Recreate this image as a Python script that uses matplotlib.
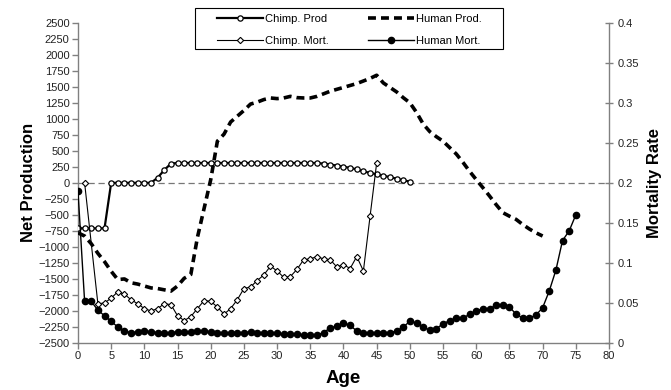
import numpy as np
import matplotlib.pyplot as plt
from matplotlib.patches import Rectangle

plt.rcParams['font.family'] = ['Liberation Sans', 'DejaVu Sans']

# --- data ---
chimp_prod_age = list(range(0, 51))
chimp_prod = [-710, -710, -710, -710, -710,
              0, 0, 0, 0, 0, 0, 0,
              80, 200, 300,
              310, 310, 310, 310, 310, 310, 310, 310, 310, 310,
              310, 310, 310, 310, 310, 310, 310, 310, 310, 310, 310, 310,
              300, 285, 270, 250, 235, 210, 180, 155, 135, 110, 90, 65, 40, 20]

human_prod_age = list(range(0, 71))
human_prod = [-780, -830, -950, -1100, -1230, -1380, -1510, -1500, -1560, -1580,
              -1610, -1640, -1650, -1670, -1690, -1610, -1490, -1430, -850, -400,
              50, 650, 760, 950, 1040, 1130, 1230, 1260, 1300, 1325,
              1315, 1325, 1350, 1330, 1325, 1325, 1350, 1390, 1430, 1460,
              1490, 1520, 1550, 1590, 1630, 1680, 1560, 1490, 1420, 1330,
              1250, 1100, 920, 800, 720, 650, 550, 450, 320, 180,
              50, -75, -205, -340, -465, -520, -570, -650, -720, -780, -830]

chimp_mort_age = [1] + list(range(3, 46))
chimp_mort = [0.200,
              0.049, 0.050, 0.056, 0.064, 0.061, 0.054, 0.049, 0.043, 0.040, 0.043,
              0.049, 0.048, 0.034, 0.028, 0.033, 0.043, 0.053, 0.052, 0.045, 0.036,
              0.043, 0.054, 0.068, 0.070, 0.078, 0.085, 0.096, 0.090, 0.082, 0.083,
              0.092, 0.104, 0.105, 0.108, 0.105, 0.104, 0.095, 0.098, 0.093, 0.108,
              0.090, 0.158, 0.225]

human_mort_age = list(range(0, 76))
human_mort = [0.190, 0.052, 0.052, 0.041, 0.034, 0.027, 0.020, 0.015, 0.013, 0.014,
              0.015, 0.014, 0.013, 0.012, 0.013, 0.014, 0.014, 0.014, 0.015, 0.015,
              0.014, 0.012, 0.012, 0.012, 0.013, 0.013, 0.014, 0.013, 0.013, 0.012,
              0.012, 0.011, 0.011, 0.011, 0.010, 0.010, 0.010, 0.013, 0.019, 0.021,
              0.025, 0.022, 0.015, 0.012, 0.012, 0.013, 0.013, 0.013, 0.015, 0.020,
              0.027, 0.025, 0.020, 0.016, 0.018, 0.024, 0.028, 0.031, 0.031, 0.036,
              0.040, 0.043, 0.043, 0.047, 0.047, 0.045, 0.036, 0.031, 0.031, 0.035,
              0.044, 0.065, 0.091, 0.128, 0.140, 0.160]

spine_col = '#808080'
W, H = 671, 390

fig = plt.figure(figsize=(W / 100, H / 100), dpi=100)
ax = fig.add_axes([0.1162, 0.1205, 0.7914, 0.8213])
ax2 = ax.twinx()

# zero line
ax.axhline(0, color='#777777', lw=0.9, ls=(0, (5, 3)), zorder=1)

# production on left axis
l1, = ax.plot(chimp_prod_age, chimp_prod, color='black', lw=1.6, marker='o',
              markersize=3.8, markerfacecolor='white', markeredgewidth=0.9,
              label='Chimp. Prod', zorder=3)
l2, = ax.plot(human_prod_age, human_prod, color='black', lw=2.6,
              ls=(0, (2.2, 1.4)), label='Human Prod.', zorder=3)

# mortality on right axis
l3, = ax2.plot(chimp_mort_age, chimp_mort, color='black', lw=0.8, marker='D',
               markersize=3.2, markerfacecolor='white', markeredgewidth=0.8,
               label='Chimp. Mort.')
l4, = ax2.plot(human_mort_age, human_mort, color='black', lw=1.0, marker='o',
               markersize=4.5, label='Human Mort.')

ax.set_xlim(0, 80)
ax.set_ylim(-2500, 2500)
ax2.set_ylim(0, 0.4)
ax.set_xticks(np.arange(0, 81, 5))
ax.set_yticks(np.arange(-2500, 2501, 250))
ax2.set_yticks(np.arange(0, 0.41, 0.05))
ax2.set_yticklabels(['0', '0.05', '0.1', '0.15', '0.2', '0.25', '0.3', '0.35', '0.4'])

for a in (ax, ax2):
    a.spines['top'].set_visible(False)
    for s in ('left', 'right', 'bottom'):
        a.spines[s].set_color(spine_col)
        a.spines[s].set_linewidth(1.0)
ax.spines['right'].set_visible(False)
ax2.spines['left'].set_visible(False)
ax2.spines['bottom'].set_visible(False)

ax.tick_params(axis='both', labelsize=8, color=spine_col, length=4, width=1.0,
               labelcolor='#222222', pad=2)
ax2.tick_params(axis='y', labelsize=8, color=spine_col, length=6, width=1.0,
                direction='inout', labelcolor='#222222', pad=3)

ax.set_xlabel('Age', fontsize=13.5, fontweight='bold', labelpad=0)
ax.xaxis.set_label_coords(0.5, -0.085)
ax.set_ylabel('Net Production', fontsize=12, fontweight='bold', labelpad=2)
ax2.set_ylabel('Mortality Rate', fontsize=12, fontweight='bold', labelpad=6)

# legend: column 1 chimp, column 2 human; frame drawn separately
leg = fig.legend(handles=[l1, l3, l2, l4], ncol=2, loc='upper left',
                 bbox_to_anchor=(217 / W, 1 - 14 / H), fontsize=8, frameon=False,
                 handlelength=4.15, columnspacing=3.5, handletextpad=0.2,
                 borderpad=0, borderaxespad=0, labelspacing=1.05)
fig.patches.append(Rectangle((195 / W, 1 - 49 / H), 308 / W, 41 / H,
                             transform=fig.transFigure, facecolor='white',
                             edgecolor='black', lw=0.8, zorder=0))

fig.savefig('out.png', dpi=100)
